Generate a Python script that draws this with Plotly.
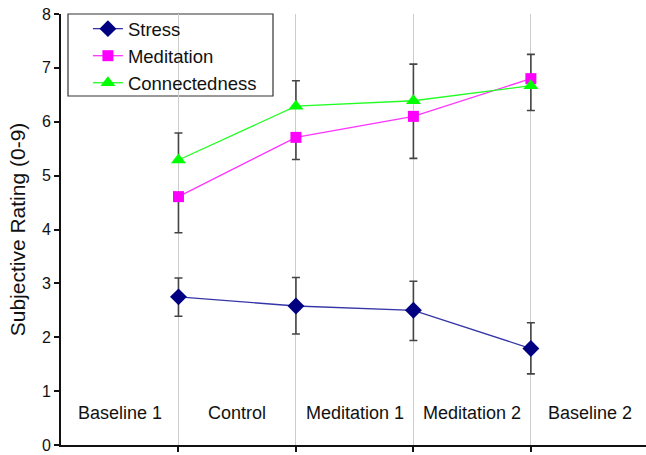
import plotly.graph_objects as go

# Data
sessions = [1, 2, 3, 4]
stress = [2.75, 2.58, 2.50, 1.79]
stress_err_plus = [0.35, 0.53, 0.54, 0.48]
stress_err_minus = [0.36, 0.52, 0.56, 0.47]
meditation = [4.61, 5.71, 6.10, 6.80]
meditation_err_plus = [0, 0, 0, 0.45]
meditation_err_minus = [0.67, 0.41, 0.78, 0]
connectedness = [5.29, 6.29, 6.39, 6.67]
connect_err_plus = [0.50, 0.47, 0.68, 0]
connect_err_minus = [0, 0, 0, 0.46]
phase_labels = ["Baseline 1", "Control", "Meditation 1", "Meditation 2", "Baseline 2"]
phase_centers = [0.5, 1.5, 2.5, 3.5, 4.5]
label_y = 0.6

FONT = "Liberation Sans, Arial, sans-serif"
ERR_COLOR = "#444444"

def err(plus, minus):
    return dict(type="data", symmetric=False, array=plus, arrayminus=minus,
                color=ERR_COLOR, thickness=1.6, width=4)

fig = go.Figure()
fig.add_trace(go.Scatter(
    x=sessions, y=stress, name="Stress", mode="lines+markers",
    line=dict(color="#3535a8", width=1.3),
    marker=dict(symbol="diamond", size=13, color="#000080"),
    error_y=err(stress_err_plus, stress_err_minus)))
fig.add_trace(go.Scatter(
    x=sessions, y=meditation, name="Meditation", mode="lines+markers",
    line=dict(color="#ff33ff", width=1.3),
    marker=dict(symbol="square", size=11, color="#ff00ff"),
    error_y=err(meditation_err_plus, meditation_err_minus)))
fig.add_trace(go.Scatter(
    x=sessions, y=connectedness, name="Connectedness", mode="lines+markers",
    line=dict(color="#22ff22", width=1.3),
    marker=dict(symbol="triangle-up", size=13, color="#00ff00"),
    error_y=err(connect_err_plus, connect_err_minus)))

for lab, xc in zip(phase_labels, phase_centers):
    fig.add_annotation(x=xc, y=label_y, text=lab, showarrow=False,
                       xref="x", yref="y",
                       font=dict(family=FONT, size=18, color="#111111"))

# legend frame (white box covering the grid line)
fig.add_shape(type="rect", xref="paper", yref="paper",
              x0=7 / 585, x1=212 / 585, y0=1 - 82 / 431, y1=1.0,
              fillcolor="white", line=dict(color="#333333", width=1.2),
              layer="between")

fig.update_layout(
    width=646, height=455,
    margin=dict(l=61, r=0, t=14, b=10, autoexpand=False),
    paper_bgcolor="white", plot_bgcolor="white",
    font=dict(family=FONT, color="#111111"),
    showlegend=True,
    legend=dict(x=0.046, y=1.009, xanchor="left", yanchor="top",
                bgcolor="rgba(0,0,0,0)", borderwidth=0,
                font=dict(family=FONT, size=18.5), tracegroupgap=0),
    xaxis=dict(range=[0, 4.98], tickvals=[1, 2, 3, 4], showticklabels=False,
               ticks="outside", ticklen=5, tickwidth=1.5, tickcolor="#111111",
               showgrid=True, gridcolor="#cccccc", gridwidth=1,
               showline=True, linecolor="#111111", linewidth=2,
               zeroline=False, fixedrange=True, automargin=False),
    yaxis=dict(range=[0, 8], dtick=1, ticks="outside", ticklen=5, tickwidth=1.5,
               tickcolor="#111111", showgrid=False, zeroline=False,
               showline=True, linecolor="#111111", linewidth=2, automargin=False,
               tickfont=dict(family=FONT, size=16),
               title=dict(text="Subjective Rating (0-9)",
                          font=dict(family=FONT, size=21), standoff=11)),
)

fig.write_html("out.html", config={"displayModeBar": False},
               post_script="document.body.style.margin='0';document.body.style.overflow='hidden';")
